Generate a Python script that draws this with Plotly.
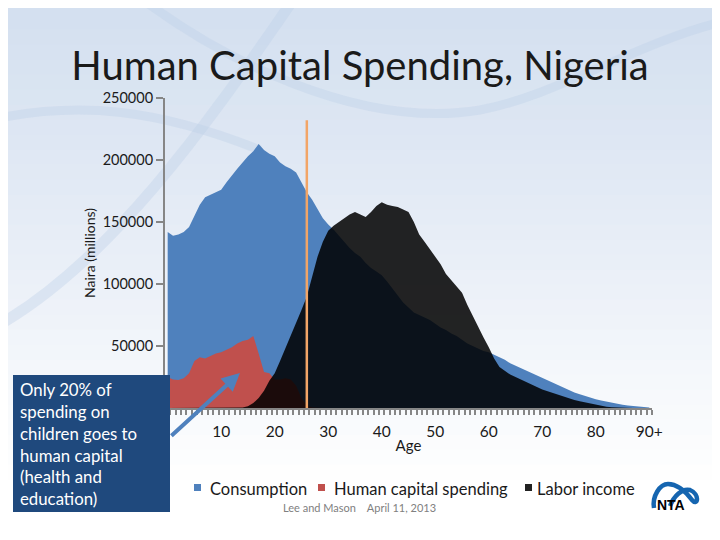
import plotly.graph_objects as go

# ---------------------------------------------------------------------------
# Data (Naira, millions) by single year of age 0..90+
# ---------------------------------------------------------------------------
ages = list(range(0, 91))

consumption = [
    142, 139, 140, 142, 146, 155, 164, 170, 172, 174,
    176, 182, 188, 193, 198, 203, 207, 213, 208, 205,
    203, 198, 195, 193, 190, 182, 174, 168, 160, 153,
    148, 144, 139, 134, 129, 125, 122, 117, 113, 110,
    107, 102, 96, 90, 85, 81, 77, 75, 73, 71,
    68, 65, 63, 60, 58, 55, 52, 50, 48, 46,
    45, 43, 40.5, 39, 36, 34, 32, 30, 28, 26,
    24, 22, 20, 18, 16, 14, 12.5, 11, 9.5, 8,
    7, 6, 5, 4, 3.3, 2.6, 2, 1.6, 1.2, 0.8,
    0.5,
]

human_capital = [
    25, 23, 22.5, 24, 28, 38, 41, 40, 42, 44,
    45, 47, 49, 52, 54, 55, 58, 44, 29, 28,
    23, 23, 24, 23, 18, 8, 2, 0.5, 0, 0,
] + [0] * 61

labor_income = [
    0, 0, 0, 0, 0, 0, 0, 0, 0, 0,
    0, 0, 0, 0, 0.5, 1.5, 4, 8, 14, 22,
    28, 38, 48, 58, 68, 79, 90, 106, 122, 134,
    143, 147, 150, 153, 156, 158, 156, 154, 158, 163,
    166, 164, 163, 162, 160, 158, 150, 140, 134, 128,
    123, 116, 108, 103, 98, 93, 83, 74, 66, 57,
    49, 40, 33, 30, 27, 25, 23, 20.5, 18.5, 16.5,
    15, 13.5, 12, 10.5, 9, 7.5, 6.5, 5.5, 4.5, 3.5,
    2.5, 1.6, 1, 0.6, 0.3, 0, 0, 0, 0, 0,
    0,
]

series_names = ["Consumption", "Human capital spending", "Labor income"]

marker_age = 26
marker_top = 232000

x_tickvals = [10, 20, 30, 40, 50, 60, 70, 80, 90]
x_ticktext = ["10", "20", "30", "40", "50", "60", "70", "80", "90+"]
y_tickvals = [50000, 100000, 150000, 200000, 250000]

COLORS = {
    "blue": "#4f81bd",
    "red": "#c0504d",
    "black": "rgba(0,0,0,0.86)",
    "axis": "#868686",
    "text": "#1a1a1a",
    "box": "#1f497d",
    "orange": "#f2a567",
}
FONT = "Lato, 'Open Sans', sans-serif"

# the page body adds an 8px margin, so the figure is shrunk by that much
OFF = 8
W, H = 720 - OFF, 540 - OFF
# plot area in page pixels: x 165..652, y 98..408
L, R, T, B = 165, 652, 98, 408


def px(x):
    return (x - L) / (R - L)


def py(y):
    return (B - y) / (B - T)


def scale(v):
    return [a * 1000 for a in v]


fig = go.Figure()

fig.add_trace(go.Scatter(
    x=ages, y=scale(consumption), mode="lines", fill="tozeroy", name=series_names[0],
    line=dict(width=0, color=COLORS["blue"]), fillcolor=COLORS["blue"],
    showlegend=False, hoverinfo="skip",
))
fig.add_trace(go.Scatter(
    x=ages, y=scale(human_capital), mode="lines", fill="tozeroy", name=series_names[1],
    line=dict(width=0, color=COLORS["red"]), fillcolor=COLORS["red"],
    showlegend=False, hoverinfo="skip",
))
fig.add_trace(go.Scatter(
    x=ages, y=scale(labor_income), mode="lines", fill="tozeroy", name=series_names[2],
    line=dict(width=0, color=COLORS["black"]), fillcolor=COLORS["black"],
    showlegend=False, hoverinfo="skip",
))
fig.add_trace(go.Scatter(
    x=[marker_age, marker_age], y=[0, marker_top], mode="lines",
    line=dict(width=2.5, color=COLORS["orange"]),
    showlegend=False, hoverinfo="skip",
))

shapes = []
# background gradient
top_c = (212, 224, 240)
bot_c = (255, 255, 255)
n = 36
for i in range(n):
    y0 = i * 540 / n
    y1 = (i + 1) * 540 / n
    t = min(1.0, (y0 / 470) ** 1.1)
    c = tuple(int(top_c[k] + (bot_c[k] - top_c[k]) * t) for k in range(3))
    shapes.append(dict(
        type="rect", xref="paper", yref="paper", layer="below",
        x0=px(0), x1=px(730), y0=py(y1), y1=py(y0) + 0.001,
        fillcolor="rgb(%d,%d,%d)" % c, line=dict(width=0),
    ))


def path(pts):
    s = "M %f,%f" % (px(pts[0][0]), py(pts[0][1]))
    for i in range(1, len(pts), 3):
        a, b, c = pts[i], pts[i + 1], pts[i + 2]
        s += " C %f,%f %f,%f %f,%f" % (px(a[0]), py(a[1]), px(b[0]), py(b[1]),
                                        px(c[0]), py(c[1]))
    return s


# faint decorative curves
faint = "rgba(190,208,232,0.38)"
shapes.append(dict(
    type="path", xref="paper", yref="paper", layer="below",
    path=path([(130, -10), (220, 60), (360, 130), (480, 110),
               (560, 95), (640, 40), (730, 20)]),
    line=dict(color=faint, width=9),
))
shapes.append(dict(
    type="path", xref="paper", yref="paper", layer="below",
    path=path([(300, -10), (230, 90), (120, 260), (-10, 330)]),
    line=dict(color=faint, width=11),
))
shapes.append(dict(
    type="path", xref="paper", yref="paper", layer="below",
    path=path([(-10, 120), (80, 100), (160, 110), (260, 150)]),
    line=dict(color=faint, width=9),
))

# text box
shapes.append(dict(
    type="rect", xref="paper", yref="paper", layer="above",
    x0=px(13), x1=px(170), y0=py(512), y1=py(375),
    fillcolor=COLORS["box"], line=dict(width=0),
))

# legend squares + labels
legend_x = [(194, 208), (318, 332), (525, 535)]
legend_cols = [COLORS["blue"], COLORS["red"], "#222222"]
annotations = []
for (sx, tx), col, name in zip(legend_x, legend_cols, series_names):
    shapes.append(dict(
        type="rect", xref="paper", yref="paper", layer="above",
        x0=px(sx), x1=px(sx + 7), y0=py(491), y1=py(484),
        fillcolor=col, line=dict(width=0),
    ))
    annotations.append(dict(
        text=name, xref="paper", yref="paper", x=px(tx), y=py(489),
        xanchor="left", yanchor="middle", showarrow=False,
        font=dict(family=FONT, size=16.5, color=COLORS["text"]),
    ))

# NTA logo swoosh
shapes.append(dict(
    type="path", xref="paper", yref="paper", layer="above",
    path=path([(654, 508), (652, 496), (660, 484), (668, 484),
               (678, 484), (686, 492), (692, 500),
               (698, 507), (700, 494), (690, 490),
               (682, 488), (674, 496), (670, 506)]),
    line=dict(color="#1565b0", width=4.5),
))

annotations += [
    dict(text="Only 20% of<br>spending on<br>children goes to<br>human capital<br>(health and<br>education)",
         xref="paper", yref="paper", x=px(18), y=py(377), xanchor="left", yanchor="top",
         align="left", showarrow=False,
         font=dict(family=FONT, size=16.8, color="white")),
    dict(x=13.5, y=28200, xref="x", yref="y", text="", showarrow=True,
         ax=-70, ay=64, arrowhead=2, arrowsize=0.9, arrowwidth=4,
         arrowcolor=COLORS["blue"], standoff=0),
    dict(text="Lee and Mason    April 11, 2013", xref="paper", yref="paper",
         x=px(359), y=py(516), showarrow=False,
         font=dict(family=FONT, size=11, color="#808080")),
    dict(text="<b>NTA</b>", xref="paper", yref="paper", x=px(687), y=py(515),
         showarrow=False, font=dict(family="'Liberation Sans', Arial", size=14, color="black")),
]

fig.update_layout(
    width=W, height=H,
    margin=dict(l=L - OFF, r=W - (R - OFF), t=T - OFF, b=H - (B - OFF)),
    paper_bgcolor="white", plot_bgcolor="rgba(0,0,0,0)",
    font=dict(family=FONT, size=15, color=COLORS["text"]),
    title=dict(text="Human Capital Spending, Nigeria", x=(360 - OFF) / W, xanchor="center",
               y=1 - (66 - OFF) / H, yanchor="middle",
               font=dict(family=FONT, size=40, color=COLORS["text"])),
    showlegend=False,
    shapes=shapes,
    annotations=annotations,
)

fig.update_xaxes(
    range=[-0.5, 90.5], tickvals=x_tickvals, ticktext=x_ticktext,
    showgrid=False, zeroline=False, showline=True, linecolor=COLORS["axis"], linewidth=2,
    ticks="", tickfont=dict(size=15.5), ticklabelstandoff=8,
    minor=dict(ticks="outside", tick0=0.5, dtick=1, ticklen=5, tickcolor=COLORS["axis"], tickwidth=2),
    title=dict(text="Age", font=dict(size=15), standoff=2),
)
fig.update_yaxes(
    range=[0, 250000], tickvals=y_tickvals, tickformat="d",
    showgrid=False, zeroline=False, showline=True, linecolor=COLORS["axis"], linewidth=2,
    ticks="outside", ticklen=7, tickcolor=COLORS["axis"], tickwidth=2,
    tickfont=dict(size=14.5),
    title=dict(text="Naira (millions)", font=dict(size=14), standoff=4),
)

fig.write_html("out.html")
